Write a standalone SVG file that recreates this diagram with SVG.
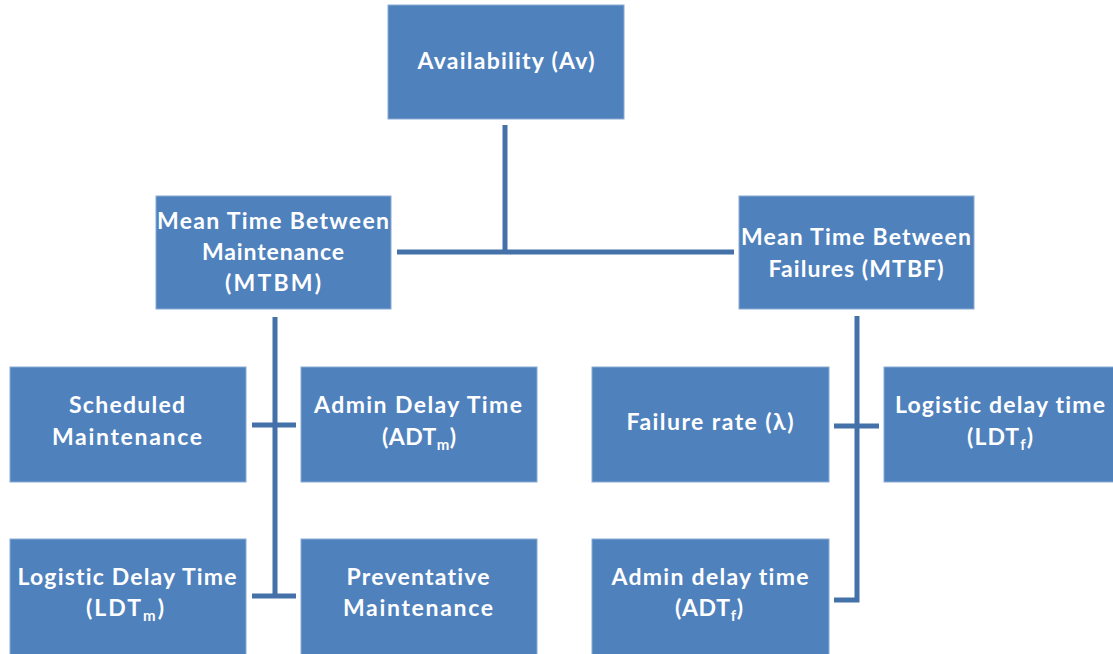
<svg xmlns="http://www.w3.org/2000/svg" width="1113" height="654" viewBox="0 0 1113 654">
  <style>
    .box { fill: #4f81bd; stroke: #8aaad4; stroke-width: 1; }
    .lbl { fill: #ffffff; font-family: Lato, "Open Sans", "Liberation Sans", sans-serif; font-weight: 700; font-size: 23px; text-anchor: middle; font-variant-ligatures: none; }
    .sub { font-size: 15px; }
    .wire { fill: none; stroke: #4471a8; stroke-width: 5; stroke-linecap: butt; stroke-linejoin: miter; }
  </style>
  <rect width="1113" height="654" fill="#ffffff"/>

  <!-- connectors -->
  <g id="connectors">
    <path class="wire" d="M505,125 V252"/>
    <path class="wire" d="M397,252 H734"/>
    <path class="wire" d="M275,317 V597"/>
    <path class="wire" d="M252,425 H296"/>
    <path class="wire" d="M252,596 H296"/>
    <path class="wire" d="M857,316 V600 H834"/>
    <path class="wire" d="M834,426 H879"/>
  </g>

  <g id="availability">
    <rect class="box" x="388" y="5" width="236" height="114"/>
    <text class="lbl" x="506" y="69" textLength="177" lengthAdjust="spacing">Availability (Av)</text>
  </g>

  <g id="mtbm">
    <rect class="box" x="156" y="196" width="235" height="113"/>
    <text class="lbl" x="273" y="229" textLength="232" lengthAdjust="spacing">Mean Time Between</text>
    <text class="lbl" x="273" y="260" textLength="142" lengthAdjust="spacing">Maintenance</text>
    <text class="lbl" x="273" y="291" textLength="96" lengthAdjust="spacing">(MTBM)</text>
  </g>

  <g id="mtbf">
    <rect class="box" x="739" y="196" width="235" height="113"/>
    <text class="lbl" x="856" y="245" textLength="230" lengthAdjust="spacing">Mean Time Between</text>
    <text class="lbl" x="856" y="277" textLength="175" lengthAdjust="spacing">Failures (MTBF)</text>
  </g>

  <g id="scheduled-maintenance">
    <rect class="box" x="10" y="367" width="236" height="115"/>
    <text class="lbl" x="127" y="413" textLength="116" lengthAdjust="spacing">Scheduled</text>
    <text class="lbl" x="127" y="445" textLength="150" lengthAdjust="spacing">Maintenance</text>
  </g>

  <g id="admin-delay-m">
    <rect class="box" x="301" y="367" width="236" height="115"/>
    <text class="lbl" x="418" y="413" textLength="208" lengthAdjust="spacing">Admin Delay Time</text>
    <text class="lbl" x="419" y="445" textLength="74" lengthAdjust="spacing">(ADT<tspan class="sub" dy="5">m</tspan><tspan dy="-5">)</tspan></text>
  </g>

  <g id="logistic-delay-m">
    <rect class="box" x="10" y="539" width="236" height="116"/>
    <text class="lbl" x="127" y="585" textLength="219" lengthAdjust="spacing">Logistic Delay Time</text>
    <text class="lbl" x="125" y="616" textLength="78" lengthAdjust="spacing">(LDT<tspan class="sub" dy="5">m</tspan><tspan dy="-5">)</tspan></text>
  </g>

  <g id="preventative-maintenance">
    <rect class="box" x="301" y="539" width="236" height="116"/>
    <text class="lbl" x="418" y="585" textLength="143" lengthAdjust="spacing">Preventative</text>
    <text class="lbl" x="418" y="616" textLength="150" lengthAdjust="spacing">Maintenance</text>
  </g>

  <g id="failure-rate">
    <rect class="box" x="592" y="367" width="237" height="115"/>
    <text class="lbl" x="710" y="430" textLength="167" lengthAdjust="spacing">Failure rate (λ)</text>
  </g>

  <g id="logistic-delay-f">
    <rect class="box" x="884" y="367" width="236" height="115"/>
    <text class="lbl" x="1000" y="413" textLength="210" lengthAdjust="spacing">Logistic delay time</text>
    <text class="lbl" x="1000" y="445" textLength="66" lengthAdjust="spacing">(LDT<tspan class="sub" dy="5">f</tspan><tspan dy="-5">)</tspan></text>
  </g>

  <g id="admin-delay-f">
    <rect class="box" x="592" y="539" width="237" height="116"/>
    <text class="lbl" x="710" y="585" textLength="197" lengthAdjust="spacing">Admin delay time</text>
    <text class="lbl" x="709" y="616" textLength="68" lengthAdjust="spacing">(ADT<tspan class="sub" dy="5">f</tspan><tspan dy="-5">)</tspan></text>
  </g>
</svg>
